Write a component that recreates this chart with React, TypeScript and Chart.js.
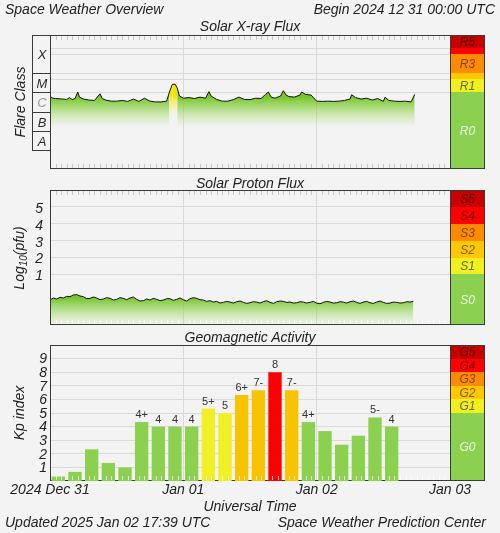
import React, { useEffect, useRef } from 'react';
import { Chart, registerables } from 'chart.js';

Chart.register(...registerables);

const FONT = '"Liberation Sans", Arial, Helvetica, sans-serif';
const BG = '#f3f3f3';
const GRID = '#d9d9d9';
const FRAME = '#3a3a3a';

// ---------- time axis (hours since 2024-12-31 00:00 UTC) ----------
const dayTickHours = [0, 24, 48, 72];
const dayTickLabels = ['2024 Dec 31', 'Jan 01', 'Jan 02', 'Jan 03'];

// ---------- Solar X-ray flux (units of 1e-6 W/m^2) ----------
const xrayHours = [0, 0.5, 1, 2, 3, 3.5, 4, 4.5, 5, 5.3, 6, 7, 8, 9, 9.4, 10, 11, 12, 13, 14, 15, 16, 17, 18, 19, 20, 21, 21.5, 22, 22.5, 22.9, 23.3, 24, 25, 26, 27, 28, 28.6, 29, 30, 31, 32, 33, 34, 35, 36, 37, 38, 38.8, 39.3, 39.8, 40.5, 41.5, 42, 42.5, 43, 44, 45, 45.3, 46, 47, 48, 49, 50, 51, 52, 53, 54, 54.3, 55, 56, 57, 58, 59, 60, 60.3, 61, 62, 63, 64, 65, 65.65];
const xrayFluxMicroW = [6.2, 5.0, 4.8, 4.6, 4.3, 5.4, 4.2, 4.8, 10.5, 5.7, 4.5, 4.0, 3.8, 8.5, 4.8, 4.0, 3.5, 3.5, 3.8, 3.4, 4.5, 3.4, 5.0, 3.5, 3.2, 3.2, 3.5, 10.5, 26, 27.5, 17, 6.5, 5.0, 5.4, 4.8, 5.7, 5.0, 11, 6.5, 4.3, 3.5, 3.5, 4.2, 5.7, 4.3, 4.2, 5.0, 4.8, 7.9, 10.5, 5.7, 5.0, 6.5, 12.3, 7.3, 6.1, 5.7, 7.3, 10.5, 7.9, 7.3, 3.5, 3.4, 3.5, 3.4, 3.5, 3.8, 4.5, 7.6, 5.4, 4.5, 5.0, 4.0, 4.8, 3.4, 5.6, 3.8, 3.5, 3.4, 3.5, 3.2, 7.9];
const xrayScaleBounds = [1e-2, 2e-3, 1e-3, 1e-4, 5e-5, 1e-5, 1e-9];
const xrayScaleLabels = ['R5', '', 'R3', '', 'R1', 'R0'];
const flareClassBounds = [1e-2, 1e-4, 1e-5, 1e-6, 1e-7, 1e-8];
const flareClassLabels = ['X', 'M', 'C', 'B', 'A'];

// ---------- Solar proton flux (log10 pfu), sampled every 0.6 h ----------
const protonStepHours = 0.6;
const protonLog = [
  -0.52, -0.40, -0.46, -0.36, -0.40, -0.30, -0.32, -0.22, -0.20, -0.28,
  -0.32, -0.44, -0.42, -0.34, -0.40, -0.50, -0.46, -0.38, -0.42, -0.52,
  -0.48, -0.38, -0.42, -0.50, -0.40, -0.34, -0.48, -0.58, -0.56, -0.46,
  -0.52, -0.42, -0.48, -0.56, -0.52, -0.44, -0.44, -0.54, -0.48, -0.40,
  -0.50, -0.58, -0.44, -0.38, -0.42, -0.50, -0.52, -0.60, -0.56, -0.64,
  -0.60, -0.70, -0.66, -0.60, -0.64, -0.70, -0.62, -0.58, -0.66, -0.72,
  -0.68, -0.62, -0.64, -0.70, -0.62, -0.56, -0.66, -0.72, -0.62, -0.58,
  -0.60, -0.66, -0.64, -0.70, -0.68, -0.62, -0.64, -0.70, -0.66, -0.60,
  -0.70, -0.74, -0.66, -0.60, -0.64, -0.70, -0.68, -0.62, -0.64, -0.70,
  -0.62, -0.58, -0.66, -0.72, -0.64, -0.60, -0.68, -0.72, -0.64, -0.58,
  -0.66, -0.72, -0.70, -0.64, -0.66, -0.70, -0.68, -0.62, -0.64, -0.60,
];
const protonTicks = [1, 2, 3, 4, 5];
const protonScaleBounds = [6, 5, 4, 3, 2, 1, -2];
const protonScaleLabels = ['S5', 'S4', 'S3', 'S2', 'S1', 'S0'];

// ---------- Geomagnetic Kp (3-hour intervals) ----------
const kpSlotHours = [1.5, 4.5, 7.5, 10.5, 13.5, 16.5, 19.5, 22.5, 25.5, 28.5, 31.5, 34.5, 37.5, 40.5, 43.5, 46.5, 49.5, 52.5, 55.5, 58.5, 61.5];
const kpValues = [0.33, 0.67, 2.33, 1.33, 1.0, 4.33, 4, 4, 4, 5.33, 5, 6.33, 6.67, 8, 6.67, 4.33, 3.67, 2.67, 3.33, 4.67, 4];
const kpLabels = ['', '', '', '', '', '4+', '4', '4', '4', '5+', '5', '6+', '7-', '8', '7-', '4+', '', '', '', '5-', '4'];
const kpTicks = [1, 2, 3, 4, 5, 6, 7, 8, 9];
const kpScaleBounds = [10, 9, 8, 7, 6, 5, 0];
const kpScaleLabels = ['G5', 'G4', 'G3', 'G2', 'G1', 'G0'];

const scaleColors = ['#c80000', '#ff0000', '#ff8c00', '#ffc800', '#f0f020', '#8cd050'];
const scaleTextColors = ['rgba(70,0,0,0.85)', 'rgba(90,0,0,0.85)', 'rgba(100,45,0,0.8)', 'rgba(90,65,0,0.8)', 'rgba(70,70,0,0.8)', 'rgba(255,255,255,0.85)'];

function kpColor(v: number) {
  const k = Math.floor(v + 0.001);
  if (k >= 9) return '#c80000';
  if (k >= 8) return '#ff0000';
  if (k >= 7) return '#ff8c00';
  if (k >= 6) return '#f8c400';
  if (k >= 5) return '#f0f024';
  return '#8cd050';
}

function vGrad(chart: any, vTop: number, vBot: number, c0: string, c1: string) {
  const { ctx, chartArea, scales } = chart;
  if (!chartArea || !scales.y) return c0;
  const y0 = scales.y.getPixelForValue(vTop);
  const y1 = scales.y.getPixelForValue(vBot);
  const g = ctx.createLinearGradient(0, y0, 0, y1);
  g.addColorStop(0, c0);
  g.addColorStop(1, c1);
  return g;
}

function scaleBoxPlugin(bounds: number[], labels: string[]) {
  return {
    id: 'scaleBox',
    afterDraw(chart: any) {
      const { ctx, chartArea: a, scales } = chart;
      const y = scales.y;
      const x0 = a.right;
      const x1 = a.right + 35;
      ctx.save();
      for (let i = 0; i < labels.length; i++) {
        const yt = Math.round(y.getPixelForValue(bounds[i]));
        const yb = Math.round(y.getPixelForValue(bounds[i + 1]));
        ctx.fillStyle = scaleColors[i];
        ctx.fillRect(x0, yt, x1 - x0, yb - yt);
        if (i < labels.length - 1) {
          ctx.strokeStyle = 'rgba(50,50,50,0.55)';
          ctx.lineWidth = 1;
          ctx.beginPath();
          ctx.moveTo(x0, yb + 0.5);
          ctx.lineTo(x1, yb + 0.5);
          ctx.stroke();
        }
        if (labels[i]) {
          ctx.fillStyle = scaleTextColors[i];
          ctx.font = 'italic 12px ' + FONT;
          ctx.textAlign = 'center';
          ctx.textBaseline = 'middle';
          ctx.fillText(labels[i], (x0 + x1) / 2, (yt + yb) / 2 + 1);
        }
      }
      ctx.strokeStyle = FRAME;
      ctx.lineWidth = 1;
      ctx.strokeRect(x0 + 0.5, a.top + 0.5, x1 - x0 - 1, a.bottom - a.top - 1);
      ctx.restore();
    },
  };
}

function framePlugin(opts: { topTicks: boolean; bottomTickColor: string; frameBefore: boolean }) {
  const drawFrame = (chart: any) => {
    const { ctx, chartArea: a } = chart;
    ctx.save();
    ctx.strokeStyle = FRAME;
    ctx.lineWidth = 1;
    ctx.strokeRect(a.left + 0.5, a.top + 0.5, a.right - a.left, a.bottom - a.top - 1);
    ctx.restore();
  };
  return {
    id: 'frame',
    beforeDatasetsDraw(chart: any) {
      if (opts.frameBefore) drawFrame(chart);
    },
    afterDatasetsDraw(chart: any) {
      const { ctx, chartArea: a, scales } = chart;
      ctx.save();
      ctx.lineWidth = 1;
      for (let h = 1; h < 72; h++) {
        if (h % 24 === 0) continue;
        const px = Math.round(scales.x.getPixelForValue(h)) + 0.5;
        if (opts.topTicks) {
          ctx.strokeStyle = '#c6c6c6';
          ctx.beginPath();
          ctx.moveTo(px, a.top + 1);
          ctx.lineTo(px, a.top + 5);
          ctx.stroke();
        }
        ctx.strokeStyle = opts.bottomTickColor;
        ctx.beginPath();
        ctx.moveTo(px, a.bottom - 5);
        ctx.lineTo(px, a.bottom - 1);
        ctx.stroke();
      }
      ctx.restore();
      if (!opts.frameBefore) drawFrame(chart);
    },
  };
}

const flareClassPlugin = {
  id: 'flareClass',
  afterDraw(chart: any) {
    const { ctx, chartArea: a, scales } = chart;
    const y = scales.y;
    const x0 = a.left - 18;
    const x1 = a.left;
    ctx.save();
    ctx.strokeStyle = FRAME;
    ctx.lineWidth = 1;
    const ys = flareClassBounds.map((b) => Math.round(y.getPixelForValue(b)) + 0.5);
    ctx.beginPath();
    ctx.moveTo(x0 + 0.5, ys[0]);
    ctx.lineTo(x0 + 0.5, ys[ys.length - 1]);
    ys.forEach((yy) => {
      ctx.moveTo(x0, yy);
      ctx.lineTo(x1, yy);
    });
    ctx.stroke();
    ctx.font = 'italic 13px ' + FONT;
    ctx.textAlign = 'center';
    ctx.textBaseline = 'middle';
    flareClassLabels.forEach((lab, i) => {
      ctx.fillStyle = lab === 'C' ? '#9a9a9a' : '#2a2a2a';
      ctx.fillText(lab, (x0 + x1) / 2 + 1, (ys[i] + ys[i + 1]) / 2 + 1);
    });
    ctx.restore();
  },
};

const kpLabelPlugin = {
  id: 'kpLabels',
  afterDatasetsDraw(chart: any) {
    const { ctx } = chart;
    const meta = chart.getDatasetMeta(0);
    ctx.save();
    ctx.font = '11px ' + FONT;
    ctx.fillStyle = '#333';
    ctx.textAlign = 'center';
    ctx.textBaseline = 'alphabetic';
    meta.data.forEach((bar: any, i: number) => {
      if (kpLabels[i]) ctx.fillText(kpLabels[i], bar.x, bar.y - 4);
    });
    ctx.restore();
  },
};

const hiddenX = (showLabels: boolean) => ({
  type: 'linear' as const,
  min: 0,
  max: 72,
  offset: false,
  afterBuildTicks: (s: any) => {
    s.ticks = dayTickHours.map((v) => ({ value: v }));
  },
  ticks: showLabels
    ? {
        display: true,
        autoSkip: false,
        maxRotation: 0,
        padding: 1,
        color: '#222',
        font: { family: FONT, size: 14, style: 'italic' as const },
        callback: (v: any) => dayTickLabels[dayTickHours.indexOf(Number(v))] ?? '',
      }
    : { display: false },
  grid: { color: GRID, drawTicks: false, offset: false },
  border: { display: false },
  afterFit: (s: any) => {
    s.height = showLabels ? 52 : 0;
    s.paddingLeft = 0;
    s.paddingRight = 0;
  },
});

const yFit = (s: any) => {
  s.width = 50;
  s.paddingTop = 0;
  s.paddingBottom = 0;
};

export default function App() {
  const r1 = useRef<HTMLCanvasElement>(null);
  const r2 = useRef<HTMLCanvasElement>(null);
  const r3 = useRef<HTMLCanvasElement>(null);

  useEffect(() => {
    Chart.defaults.font.family = FONT;
    Chart.defaults.color = '#222';

    const c1 = new Chart(r1.current as HTMLCanvasElement, {
      type: 'line',
      data: {
        datasets: [
          {
            data: xrayHours.map((h, i) => ({ x: h, y: xrayFluxMicroW[i] * 1e-6 })),
            borderColor: '#111',
            borderWidth: 1,
            pointRadius: 0,
            tension: 0,
            fill: 'start',
            backgroundColor: (c: any) => vGrad(c.chart, 5.5e-6, 1.6e-7, 'rgba(118,198,40,1)', 'rgba(170,225,110,0)'),
            segment: {
              backgroundColor: (c: any) =>
                Math.min(c.p0.parsed.y, c.p1.parsed.y) >= 1e-5
                  ? vGrad(c.chart, 7e-6, 5e-7, 'rgba(246,226,0,1)', 'rgba(255,250,190,0)')
                  : undefined,
            },
          } as any,
        ],
      },
      options: {
        responsive: false,
        animation: false,
        devicePixelRatio: 1,
        layout: { padding: { left: 0, right: 50, top: 35, bottom: 8 } },
        plugins: { legend: { display: false }, tooltip: { enabled: false } },
        scales: {
          x: hiddenX(false) as any,
          y: {
            type: 'logarithmic',
            min: 1e-9,
            max: 1e-2,
            afterBuildTicks: (s: any) => {
              s.ticks = xrayScaleBounds.slice(1, 6).map((v) => ({ value: v }));
            },
            ticks: { display: false },
            grid: { color: GRID, drawTicks: false },
            border: { display: false },
            afterFit: yFit,
          } as any,
        },
      },
      plugins: [framePlugin({ topTicks: true, bottomTickColor: '#c6c6c6', frameBefore: false }), scaleBoxPlugin(xrayScaleBounds, xrayScaleLabels), flareClassPlugin],
    });

    const c2 = new Chart(r2.current as HTMLCanvasElement, {
      type: 'line',
      data: {
        datasets: [
          {
            data: protonLog.map((v, i) => ({ x: i * protonStepHours, y: v })),
            borderColor: '#111',
            borderWidth: 1,
            pointRadius: 0,
            tension: 0,
            fill: 'start',
            backgroundColor: (c: any) => vGrad(c.chart, -0.4, -2.0, 'rgba(118,198,46,1)', 'rgba(170,225,110,0.05)'),
          } as any,
        ],
      },
      options: {
        responsive: false,
        animation: false,
        devicePixelRatio: 1,
        layout: { padding: { left: 0, right: 50, top: 13, bottom: 5 } },
        plugins: { legend: { display: false }, tooltip: { enabled: false } },
        scales: {
          x: hiddenX(false) as any,
          y: {
            type: 'linear',
            min: -2,
            max: 6,
            afterBuildTicks: (s: any) => {
              s.ticks = protonTicks.map((v) => ({ value: v }));
            },
            ticks: {
              autoSkip: false,
              padding: 7,
              labelOffset: 2,
              color: '#222',
              font: { family: FONT, size: 14, style: 'italic' },
            },
            grid: { color: GRID, drawTicks: false },
            border: { display: false },
            afterFit: yFit,
          } as any,
        },
      },
      plugins: [framePlugin({ topTicks: true, bottomTickColor: 'rgba(255,255,255,0.7)', frameBefore: false }), scaleBoxPlugin(protonScaleBounds, protonScaleLabels)],
    });

    const c3 = new Chart(r3.current as HTMLCanvasElement, {
      type: 'bar',
      data: {
        datasets: [
          {
            data: kpSlotHours.map((h, i) => ({ x: h, y: kpValues[i] })),
            backgroundColor: kpValues.map(kpColor),
            borderWidth: 0,
            barPercentage: 0.8,
            categoryPercentage: 1,
          } as any,
        ],
      },
      options: {
        responsive: false,
        animation: false,
        devicePixelRatio: 1,
        layout: { padding: { left: 0, right: 50, top: 15, bottom: 0 } },
        plugins: { legend: { display: false }, tooltip: { enabled: false } },
        scales: {
          x: hiddenX(true) as any,
          y: {
            type: 'linear',
            min: 0,
            max: 10,
            afterBuildTicks: (s: any) => {
              s.ticks = kpTicks.map((v) => ({ value: v }));
            },
            ticks: {
              autoSkip: false,
              padding: 3,
              labelOffset: 1,
              color: '#222',
              font: { family: FONT, size: 14, style: 'italic' },
            },
            grid: { color: GRID, drawTicks: false },
            border: { display: false },
            afterFit: yFit,
          } as any,
        },
      },
      plugins: [framePlugin({ topTicks: false, bottomTickColor: 'rgba(255,255,255,0.75)', frameBefore: true }), scaleBoxPlugin(kpScaleBounds, kpScaleLabels), kpLabelPlugin],
    });

    return () => {
      c1.destroy();
      c2.destroy();
      c3.destroy();
    };
  }, []);

  const text = (key: string, content: React.ReactNode, x: number, baseline: number, align: 'left' | 'right' | 'center') => {
    const style: React.CSSProperties = {
      position: 'absolute',
      top: baseline - 12,
      lineHeight: '14px',
      whiteSpace: 'nowrap',
    };
    if (align === 'left') style.left = x;
    else if (align === 'right') style.right = 500 - x;
    else {
      style.left = x;
      style.transform = 'translateX(-50%)';
    }
    return (
      <div key={key} style={style}>
        {content}
      </div>
    );
  };

  const vtext = (key: string, content: React.ReactNode, cx: number, cy: number) => (
    <div
      key={key}
      style={{
        position: 'absolute',
        left: cx,
        top: cy,
        lineHeight: '16px',
        whiteSpace: 'nowrap',
        transform: 'translate(-50%, -50%) rotate(-90deg)',
      }}
    >
      {content}
    </div>
  );

  return (
    <div
      style={{
        position: 'absolute',
        left: 0,
        top: 0,
        width: 500,
        height: 533,
        overflow: 'hidden',
        background: BG,
        fontFamily: FONT,
        fontStyle: 'italic',
        fontSize: 14,
        color: '#222',
      }}
    >
      <canvas ref={r1} width={500} height={177} style={{ position: 'absolute', left: 0, top: 0, width: 500, height: 177 }} />
      <canvas ref={r2} width={500} height={153} style={{ position: 'absolute', left: 0, top: 177, width: 500, height: 153 }} />
      <canvas ref={r3} width={500} height={203} style={{ position: 'absolute', left: 0, top: 330, width: 500, height: 203 }} />
      {text('t1', 'Space Weather Overview', 5, 14, 'left')}
      {text('t2', 'Begin 2024 12 31 00:00 UTC', 495, 14, 'right')}
      {text('t3', 'Solar X-ray Flux', 250, 30.5, 'center')}
      {text('t4', 'Solar Proton Flux', 250, 188, 'center')}
      {text('t5', 'Geomagnetic Activity', 250, 341.5, 'center')}
      {text('t6', 'Universal Time', 250, 510.5, 'center')}
      {text('t7', 'Updated 2025 Jan 02 17:39 UTC', 5, 527, 'left')}
      {text('t8', 'Space Weather Prediction Center', 486, 527, 'right')}
      {vtext('v1', 'Flare Class', 20, 102)}
      {vtext(
        'v2',
        <span>
          Log<sub style={{ fontSize: 10, verticalAlign: '-3px', lineHeight: 0 }}>10</sub>(pfu)
        </span>,
        19,
        258
      )}
      {vtext('v3', 'Kp index', 19, 413)}
    </div>
  );
}
